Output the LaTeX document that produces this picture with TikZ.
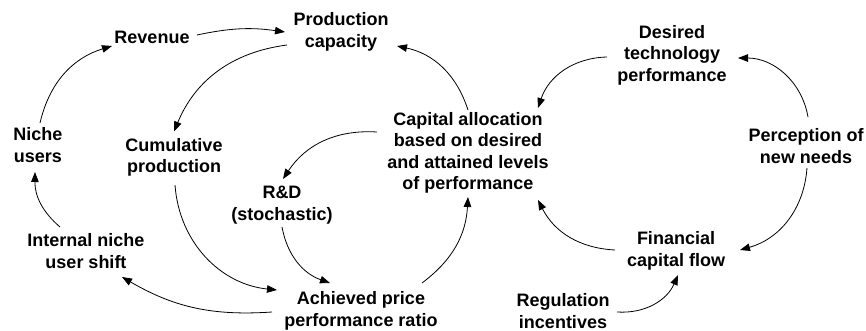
\documentclass[tikz,border=0pt]{standalone}
\usepackage{fontspec}
\setmainfont{Liberation Sans}
\usetikzlibrary{arrows.meta,calc}
\begin{document}
\begin{tikzpicture}[x=1pt,y=-1pt,
  var/.style={align=center,font=\fontsize{18}{21.5}\selectfont\bfseries,inner sep=0pt},
  link/.style={-{Triangle[length=10pt,width=7.5pt]},line width=0.8pt}]
\useasboundingbox (0,0) rectangle (866,331);

% variables
\node[var] (revenue)    at (152,37)  {Revenue};
\node[var] (prodcap)    at (341,32)  {Production\\capacity};
\node[var] (desired)    at (672,55)  {Desired\\technology\\performance};
\node[var] (niche)      at (38,145)  {Niche\\users};
\node[var] (cumul)      at (174,157.5) {Cumulative\\production};
\node[var] (capital)    at (468,153) {Capital allocation\\based on desired\\and attained levels\\of performance};
\node[var] (perception) at (806,146) {Perception of\\new needs};
\node[var] (rd)         at (282,205) {R\&D\\(stochastic)};
\node[var] (internal)   at (86,251)  {Internal niche\\user shift};
\node[var] (financial)  at (676,251) {Financial\\capital flow};
\node[var] (achieved)   at (361,311) {Achieved price\\performance ratio};
\node[var] (regulation) at (563,311) {Regulation\\incentives};

% causal links
\draw[link] ($(niche)+(2,-22)$)       to[bend left=30]  ($(revenue)+(-40,9)$);
\draw[link] ($(revenue)+(45,-2)$)     to[bend left=10]  ($(prodcap)+(-56,0)$);
\draw[link] ($(prodcap)+(-54,13)$)    to[bend right=30] ($(cumul)+(0,-26)$);
\draw[link] ($(capital)+(0,-43)$)     to[bend right=30] ($(prodcap)+(56,14)$);
\draw[link] ($(desired)+(-65,2)$)     to[bend right=35] ($(capital)+(70,-45)$);
\draw[link] ($(perception)+(2,-29)$)  to[bend right=40] ($(desired)+(66,3)$);
\draw[link] ($(perception)+(1,22)$)   to[bend left=35]  ($(financial)+(64,-1)$);
\draw[link] ($(financial)+(-61,-1)$)  to[bend left=30]  ($(capital)+(70,47)$);
\draw[link] ($(regulation)+(54,1)$)   to[bend right=35] ($(financial)+(2,24)$);
\draw[link] ($(achieved)+(61,-28)$)   to[bend right=25] ($(capital)+(0,44)$);
\draw[link] ($(capital)+(-91,-21)$)   to[bend right=30] ($(rd)+(1,-26)$);
\draw[link] ($(rd)+(0,22)$)           to[bend right=30] ($(achieved)+(-31,-28)$);
\draw[link] ($(cumul)+(1,27.5)$)      to[bend right=40] ($(achieved)+(-84,-21)$);
\draw[link] ($(achieved)+(-89,1)$)    to[bend left=17]  ($(internal)+(36,26)$);
\draw[link] ($(internal)+(-26,-24)$)  to[bend left=25]  ($(niche)+(-3,27)$);
\end{tikzpicture}
\end{document}
